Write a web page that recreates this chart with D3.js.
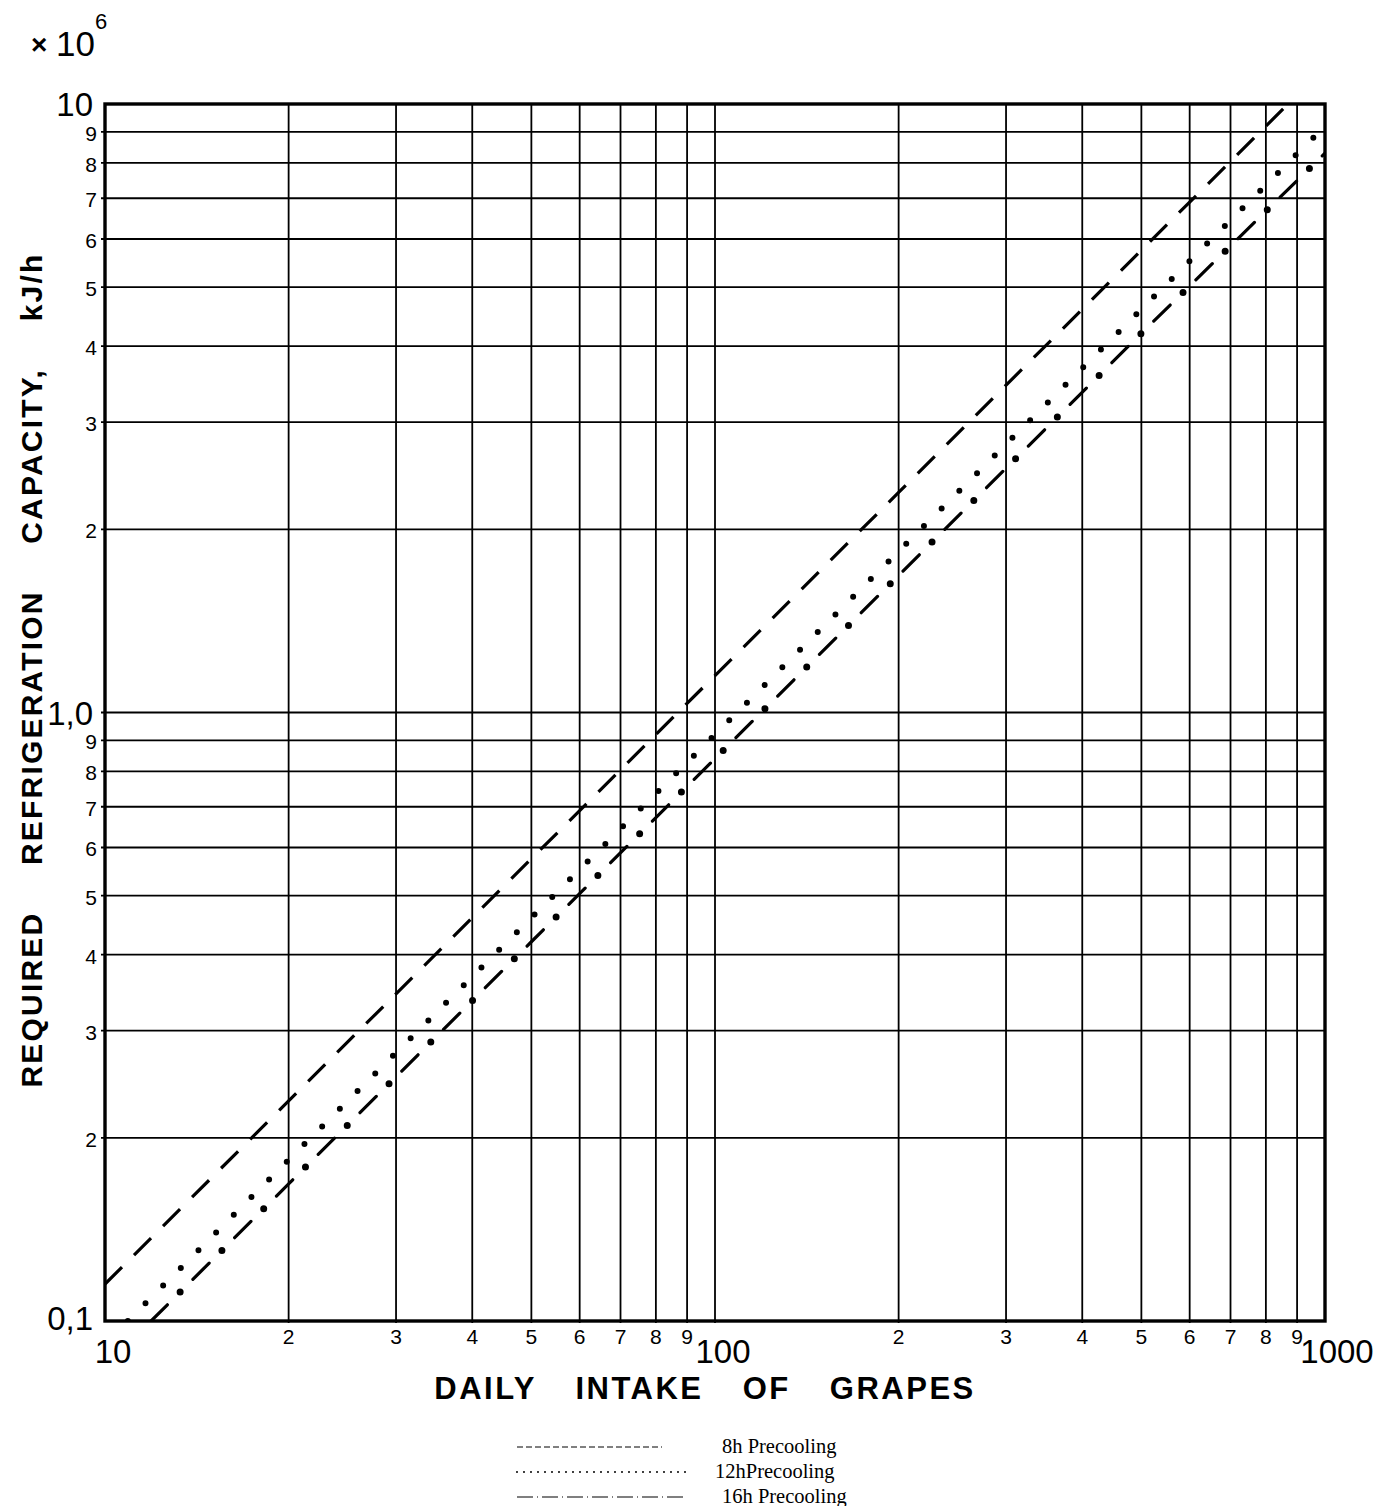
<!DOCTYPE html>
<html><head><meta charset="utf-8">
<script src="https://cdn.jsdelivr.net/npm/d3@7"></script>
<style>body{margin:0;background:#fff}svg{display:block}</style>
</head><body>
<script>
// ---- data (values in 10^6 kJ/h vs daily intake) ----
const seriesNames = ["8h Precooling", "12hPrecooling", "16h Precooling"];
const intake8h  = [10, 20, 50, 100, 200, 500, 870];
const cap8h     = [0.115, 0.23, 0.575, 1.15, 2.3, 5.75, 10.0];
const intake12h = [10.9, 20, 50, 100, 200, 500, 1000];
const cap12h    = [0.1, 0.184, 0.46, 0.92, 1.84, 4.6, 9.2];
const intake16h = [11.9, 20, 50, 100, 200, 500, 1000];
const cap16h    = [0.1, 0.168, 0.42, 0.84, 1.68, 4.2, 8.3];
const xGridValues = [20,30,40,50,60,70,80,90,100,200,300,400,500,600,700,800,900];
const yGridValues = [0.2,0.3,0.4,0.5,0.6,0.7,0.8,0.9,1,2,3,4,5,6,7,8,9];
const xMajorLabels = [[10,"10"],[100,"100"],[1000,"1000"]];
const xMinorLabels = [[20,"2"],[30,"3"],[40,"4"],[50,"5"],[60,"6"],[70,"7"],[80,"8"],[90,"9"],
                      [200,"2"],[300,"3"],[400,"4"],[500,"5"],[600,"6"],[700,"7"],[800,"8"],[900,"9"]];
const yMajorLabels = [[10,"10"],[1,"1,0"],[0.1,"0,1"]];
const yMinorLabels = [[9,"9"],[8,"8"],[7,"7"],[6,"6"],[5,"5"],[4,"4"],[3,"3"],[2,"2"],
                      [0.9,"9"],[0.8,"8"],[0.7,"7"],[0.6,"6"],[0.5,"5"],[0.4,"4"],[0.3,"3"],[0.2,"2"]];

const W = 1373, H = 1506;
const L = 105, R = 1325, T = 104, B = 1321;
const svg = d3.select("body").append("svg").attr("width", W).attr("height", H);
const x = d3.scaleLog().domain([10, 1000]).range([L, R]);
const y = d3.scaleLog().domain([0.1, 10]).range([B, T]);
const sans = "Liberation Sans, Arial, sans-serif";

// grid
svg.append("g").selectAll("line").data(xGridValues).join("line")
  .attr("x1", d => x(d)).attr("x2", d => x(d)).attr("y1", T).attr("y2", B + 2)
  .attr("stroke", "#000").attr("stroke-width", 1.8);
svg.append("g").selectAll("line").data(yGridValues).join("line")
  .attr("x1", L - 4).attr("x2", R).attr("y1", d => y(d)).attr("y2", d => y(d))
  .attr("stroke", "#000").attr("stroke-width", 1.8);
// frame
svg.append("rect").attr("x", L).attr("y", T).attr("width", R - L).attr("height", B - T)
  .attr("fill", "none").attr("stroke", "#000").attr("stroke-width", 3.4);

// clip
svg.append("clipPath").attr("id", "clip").append("rect")
  .attr("x", L).attr("y", T - 3).attr("width", R - L).attr("height", B - T + 3);

const line = d3.line().x(d => x(d[0])).y(d => y(d[1]));
const g = svg.append("g").attr("clip-path", "url(#clip)");
// 8h dashed
g.append("path").datum(d3.zip(intake8h, cap8h)).attr("d", line)
  .attr("fill", "none").attr("stroke", "#000").attr("stroke-width", 3.2)
  .attr("stroke-dasharray", "24 17");
// 12h dotted
g.append("path").datum(d3.zip(intake12h, cap12h)).attr("d", line)
  .attr("fill", "none").attr("stroke", "#000").attr("stroke-width", 6)
  .attr("stroke-linecap", "round").attr("stroke-dasharray", "0 25");
// 16h dash-dot: dashes + dots
g.append("path").datum(d3.zip(intake16h, cap16h)).attr("d", line)
  .attr("fill", "none").attr("stroke", "#000").attr("stroke-width", 3.2)
  .attr("stroke-linecap", "round").attr("stroke-dasharray", "23 36");
g.append("path").datum(d3.zip(intake16h, cap16h)).attr("d", line)
  .attr("fill", "none").attr("stroke", "#000").attr("stroke-width", 7)
  .attr("stroke-linecap", "round").attr("stroke-dasharray", "0 59").attr("stroke-dashoffset", 18);

// y labels
svg.append("g").selectAll("text").data(yMajorLabels).join("text")
  .attr("x", L - 12).attr("y", d => y(d[0]) + (d[0] === 0.1 ? 9 : 12)).attr("text-anchor", "end")
  .attr("font-family", sans).attr("font-size", 33).text(d => d[1]);
svg.append("g").selectAll("text").data(yMinorLabels).join("text")
  .attr("x", L - 8).attr("y", d => y(d[0]) + 9).attr("text-anchor", "end")
  .attr("font-family", sans).attr("font-size", 21).text(d => d[1]);
// x labels
svg.append("g").selectAll("text").data(xMajorLabels).join("text")
  .attr("x", d => x(d[0]) + (d[0] === 1000 ? 12 : 8)).attr("y", B + 42).attr("text-anchor", "middle")
  .attr("font-family", sans).attr("font-size", 33).text(d => d[1]);
svg.append("g").selectAll("text").data(xMinorLabels).join("text")
  .attr("x", d => x(d[0])).attr("y", B + 23).attr("text-anchor", "middle")
  .attr("font-family", sans).attr("font-size", 21).text(d => d[1]);

// multiplier
svg.append("text").attr("x", 31).attr("y", 54).attr("font-family", sans).attr("font-size", 28)
  .attr("font-weight", "bold").text("×");
const mt = svg.append("text").attr("x", 56).attr("y", 56).attr("font-family", sans).attr("font-size", 35);
mt.append("tspan").text("10");
mt.append("tspan").attr("dy", -27).attr("font-size", 22).text("6");

// axis titles
svg.append("text").attr("x", 705).attr("y", 1399).attr("text-anchor", "middle")
  .attr("font-family", sans).attr("font-weight", "bold").attr("font-size", 31)
  .attr("letter-spacing", 2.5).attr("word-spacing", 28).text("DAILY INTAKE OF GRAPES");
svg.append("text").attr("transform", "translate(42,670) rotate(-90)").attr("text-anchor", "middle")
  .attr("font-family", sans).attr("font-weight", "bold").attr("font-size", 30)
  .attr("letter-spacing", 2.2).attr("word-spacing", 36).text("REQUIRED REFRIGERATION CAPACITY, kJ/h");

// legend
const serif = "Liberation Serif, Times New Roman, serif";
const legRows = [
  {name: seriesNames[0], y: 1447, x2: 662, dash: "6 3", w: 1, cap: "butt", tx: 722},
  {name: seriesNames[1], y: 1472, x2: 688, dash: "0 7", w: 2, cap: "round", tx: 715},
  {name: seriesNames[2], y: 1497, x2: 685, dash: "16 4 1 4", w: 1.2, cap: "butt", tx: 722}
];
const lg = svg.append("g");
lg.selectAll("line").data(legRows).join("line")
  .attr("x1", 517).attr("x2", d => d.x2).attr("y1", d => d.y).attr("y2", d => d.y)
  .attr("stroke", "#000").attr("stroke-width", d => d.w).attr("stroke-linecap", d => d.cap)
  .attr("stroke-dasharray", d => d.dash);
lg.selectAll("text").data(legRows).join("text")
  .attr("x", d => d.tx).attr("y", d => d.y + 6)
  .attr("font-family", serif).attr("font-size", 20.5).text(d => d.name);
</script>
</body></html>
